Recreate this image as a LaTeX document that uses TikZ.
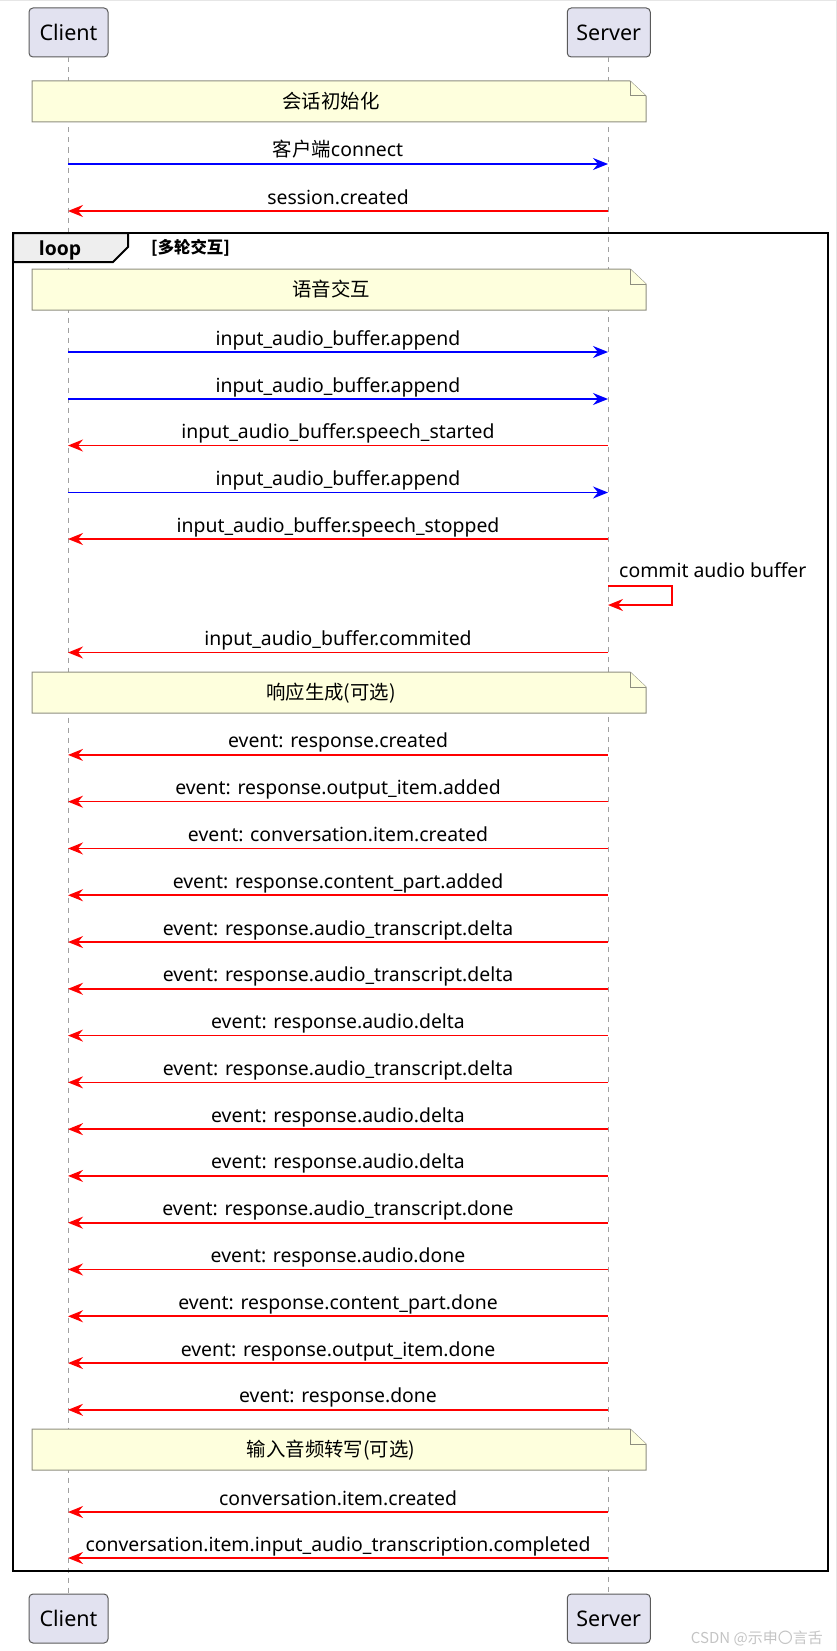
\documentclass[tikz,border=0pt]{standalone}
\usepackage{fontspec}
\setmainfont{Noto Sans}
\newfontfamily\cjk{Noto Sans CJK SC}
\newfontfamily\loopfont{Open Sans}
\usetikzlibrary{arrows.meta}
\definecolor{partfill}{HTML}{E2E2F0}
\definecolor{partline}{HTML}{5A5A5A}
\definecolor{notefill}{HTML}{FEFFDD}
\definecolor{notegray}{HTML}{8E8E80}
\definecolor{lifegray}{HTML}{A0A0A0}
\definecolor{tabfill}{HTML}{EEEEEE}
\definecolor{wmgray}{HTML}{C4C4C4}
\definecolor{edgegray}{HTML}{E6E6E6}
\tikzset{
  part/.style={draw=partline, fill=partfill, rounded corners=4pt, line width=1pt,
    minimum height=49pt, inner sep=0pt, font=\fontsize{21.5}{24}\selectfont},
  lifeline/.style={draw=lifegray, line width=1pt, dash pattern=on 5pt off 5pt},
  tipA/.style={-{Stealth[length=15pt,width=12pt,inset=5pt]}},
  msgB/.style={draw=blue, line width=1.6pt, tipA},
  msgR/.style={draw=red, line width=1.6pt, tipA},
  lbl/.style={font=\fontsize{19.4}{22}\selectfont, anchor=base, inner sep=0pt},
  notebody/.style={draw=notegray, fill=notefill, line width=1pt, line join=miter},
}
\newcommand\tocs[3]{%
  \coordinate (#1c) at (68,#2);
  \coordinate (#1s) at (608,#2);
  \draw[msgB] (#1c) -- (#1s);
  \node[lbl] (#1l) at (338,#2-7) {#3};}
\newcommand\tosc[3]{%
  \coordinate (#1c) at (68,#2);
  \coordinate (#1s) at (608,#2);
  \draw[msgR] (#1s) -- (#1c);
  \node[lbl] (#1l) at (338,#2-7) {#3};}
\newcommand\notebox[3]{%
  \draw[notebody] (32,#2) -- (630,#2) -- (646,#2+15) -- (646,#2+41) -- (32,#2+41) -- cycle;
  \draw[notebody] (630,#2) -- (630,#2+15) -- (646,#2+15);
  \node[lbl] (#1) at (331,#2+27.5) {\cjk #3};}
\begin{document}
\begin{tikzpicture}[x=1pt,y=-1pt]
\useasboundingbox (0,0) rectangle (837,1651);
\draw[edgegray, line width=1pt] (0,0.5) -- (836.5,0.5) -- (836.5,1651);
% participants
\node[part, minimum width=79pt] (ct) at (68.5,32.5) {Client};
\node[part, minimum width=83pt] (st) at (608.75,32.5) {Server};
\node[part, minimum width=79pt] (cb) at (68.5,1618.5) {Client};
\node[part, minimum width=83pt] (sb) at (608.75,1618.5) {Server};
\draw[lifeline] (ct.south) -- (cb.north);
\draw[lifeline] (608,57) -- (608,1594);
% messages before loop
\notebox{n1}{81}{会话初始化}
\tocs{m1}{164}{{\cjk 客户端}connect}
\tosc{m2}{211}{session.created}
% loop frame
\draw[line width=2pt, line join=miter] (13,233) rectangle (828,1571);
\draw[line width=2pt, fill=tabfill, line join=miter] (13,233) -- (128,233) -- (128,247) -- (113,262) -- (13,262) -- cycle;
\node[lbl, font=\loopfont\bfseries\fontsize{19.4}{22}\selectfont] (looplbl) at (60,255) {loop};
\node[lbl, anchor=base west, font=\fontsize{16.4}{18}\selectfont\cjk\bfseries] (loopcond) at (151,253) {[多轮交互]};
\notebox{n2}{269}{语音交互}
\tocs{m3}{352}{input\_audio\_buffer.append}
\tocs{m4}{399}{input\_audio\_buffer.append}
\tosc{m5}{445.5}{input\_audio\_buffer.speech\_started}
\tocs{m6}{492.5}{input\_audio\_buffer.append}
\tosc{m7}{539}{input\_audio\_buffer.speech\_stopped}
% self message
\coordinate (sa) at (608,586);
\coordinate (sb2) at (608,605);
\draw[msgR] (sa) -- (672,586) -- (672,605) -- (sb2);
\node[lbl, anchor=base west] (selflbl) at (619,577) {commit audio buffer};
\tosc{m8}{652.5}{input\_audio\_buffer.commited}
\notebox{n3}{672}{响应生成(可选)}
\foreach \t [count=\k from 0] in {
  event: response.created,
  event: response.output\_item.added,
  event: conversation.item.created,
  event: response.content\_part.added,
  event: response.audio\_transcript.delta,
  event: response.audio\_transcript.delta,
  event: response.audio.delta,
  event: response.audio\_transcript.delta,
  event: response.audio.delta,
  event: response.audio.delta,
  event: response.audio\_transcript.done,
  event: response.audio.done,
  event: response.content\_part.done,
  event: response.output\_item.done,
  event: response.done}{
  \pgfmathsetmacro\yy{754.9+\k*46.78}
  \tosc{e\k}{\yy}{\t}
}
\notebox{n4}{1429}{输入音频转写(可选)}
\tosc{m9}{1512}{conversation.item.created}
\tosc{m10}{1558}{conversation.item.input\_audio\_transcription.completed}
% watermark
\node[anchor=base east, inner sep=0pt, text=wmgray, font=\cjk\fontsize{15}{16}\selectfont] (wm) at (823,1643) {CSDN @示申〇言舌};
\end{tikzpicture}
\end{document}
